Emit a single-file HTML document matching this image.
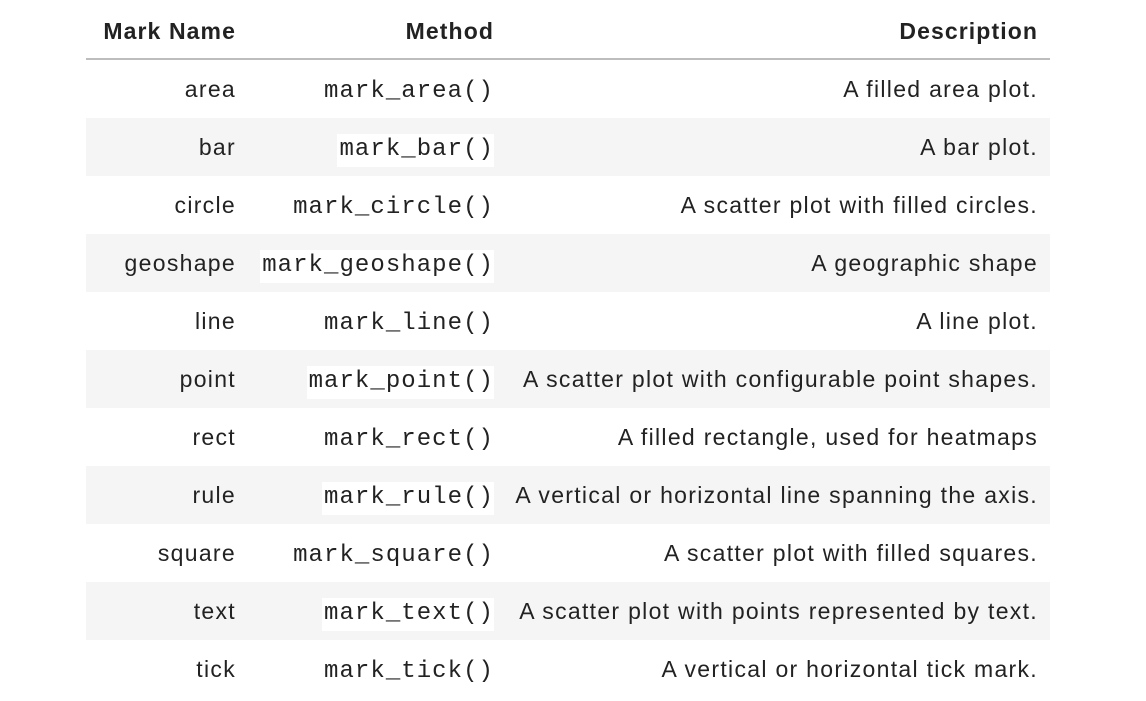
<!DOCTYPE html>
<html><head><meta charset="utf-8"><style>
body{margin:0;width:1146px;height:698px;background:#fff;overflow:hidden;font-family:"Liberation Sans",sans-serif;color:#222;}
.hdr{position:absolute;top:0;left:86px;width:964px;height:58px;border-bottom:2px solid #bdbdbd;}
.row{position:absolute;left:86px;width:964px;height:58px;}
.g{background:#f5f5f5;}
.c{position:absolute;top:0;height:58px;line-height:58px;text-align:right;white-space:nowrap;font-size:23px;letter-spacing:1.3px;}
.c1{right:814px;}
.c2{right:556px;}
.c3{right:12px;}
.hdr .c{font-weight:bold;line-height:62px;letter-spacing:1.1px;}
.c2{letter-spacing:0;}
code{font-family:"Liberation Mono",monospace;font-size:24px;letter-spacing:1.05px;background:#fff;padding:2px 0 4px 2px;}
</style></head><body>
<div class="hdr"><div class="c c1">Mark Name</div><div class="c c2" style="letter-spacing:1.1px;right:556px">Method</div><div class="c c3">Description</div></div>
<div class="row" style="top:60px"><div class="c c1">area</div><div class="c c2"><code>mark_area()</code></div><div class="c c3">A filled area plot.</div></div>
<div class="row g" style="top:118px"><div class="c c1">bar</div><div class="c c2"><code>mark_bar()</code></div><div class="c c3">A bar plot.</div></div>
<div class="row" style="top:176px"><div class="c c1">circle</div><div class="c c2"><code>mark_circle()</code></div><div class="c c3">A scatter plot with filled circles.</div></div>
<div class="row g" style="top:234px"><div class="c c1">geoshape</div><div class="c c2"><code>mark_geoshape()</code></div><div class="c c3">A geographic shape</div></div>
<div class="row" style="top:292px"><div class="c c1">line</div><div class="c c2"><code>mark_line()</code></div><div class="c c3">A line plot.</div></div>
<div class="row g" style="top:350px"><div class="c c1">point</div><div class="c c2"><code>mark_point()</code></div><div class="c c3">A scatter plot with configurable point shapes.</div></div>
<div class="row" style="top:408px"><div class="c c1">rect</div><div class="c c2"><code>mark_rect()</code></div><div class="c c3">A filled rectangle, used for heatmaps</div></div>
<div class="row g" style="top:466px"><div class="c c1">rule</div><div class="c c2"><code>mark_rule()</code></div><div class="c c3">A vertical or horizontal line spanning the axis.</div></div>
<div class="row" style="top:524px"><div class="c c1">square</div><div class="c c2"><code>mark_square()</code></div><div class="c c3">A scatter plot with filled squares.</div></div>
<div class="row g" style="top:582px"><div class="c c1">text</div><div class="c c2"><code>mark_text()</code></div><div class="c c3">A scatter plot with points represented by text.</div></div>
<div class="row" style="top:640px"><div class="c c1">tick</div><div class="c c2"><code>mark_tick()</code></div><div class="c c3">A vertical or horizontal tick mark.</div></div>
</body></html>
